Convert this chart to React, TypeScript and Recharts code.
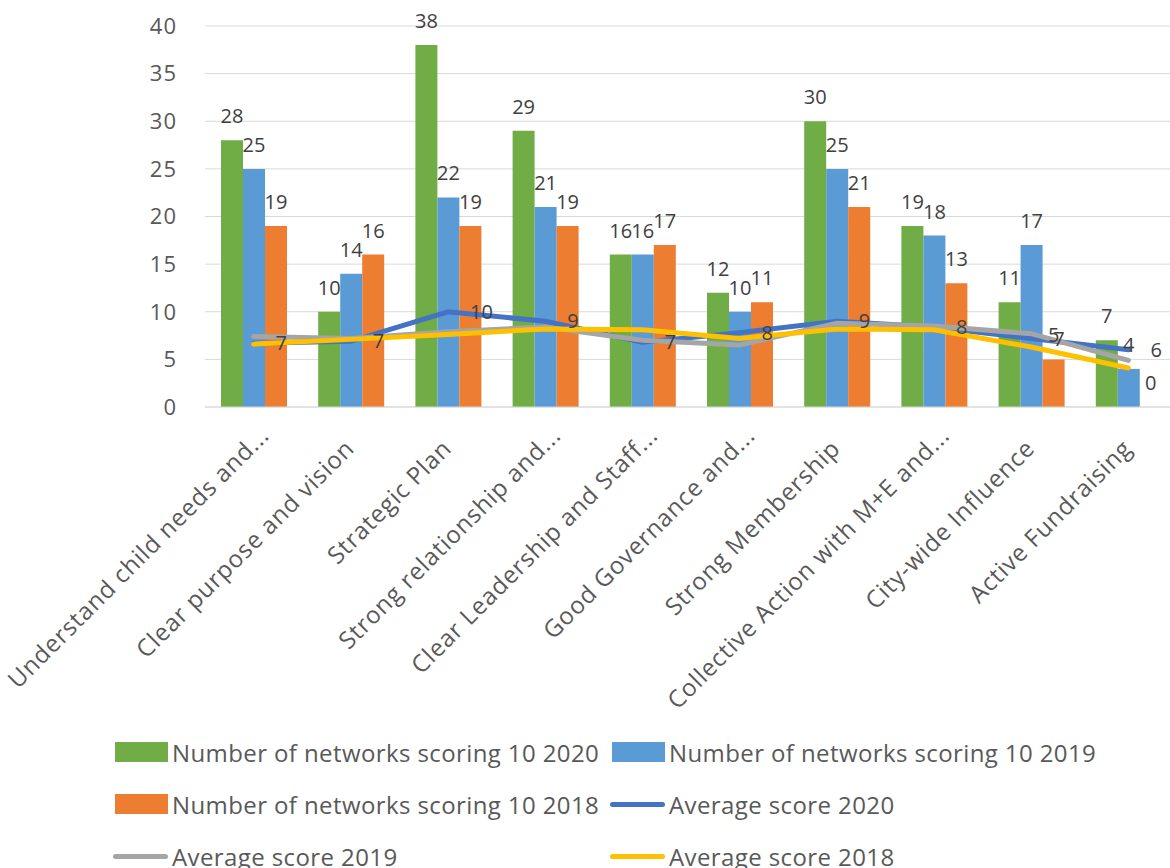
import {
  ComposedChart,
  Bar,
  Line,
  XAxis,
  YAxis,
  CartesianGrid,
  Legend,
  LabelList,
} from 'recharts'

const categories = [
  'Understand child needs and...',
  'Clear purpose and vision',
  'Strategic Plan',
  'Strong relationship and...',
  'Clear Leadership and Staff...',
  'Good Governance and...',
  'Strong Membership',
  'Collective Action with M+E and...',
  'City-wide Influence',
  'Active Fundraising',
]

const networks2020 = [28, 10, 38, 29, 16, 12, 30, 19, 11, 7]
const networks2019 = [25, 14, 22, 21, 16, 10, 25, 18, 17, 4]
const networks2018 = [19, 16, 19, 19, 17, 11, 21, 13, 5, 0]

const average2020 = [6.7, 6.9, 10.0, 9.0, 6.8, 7.8, 9.0, 8.4, 7.2, 6.0]
const average2019 = [7.4, 7.2, 7.9, 8.4, 7.0, 6.5, 8.8, 8.5, 7.7, 4.9]
const average2018 = [6.6, 7.1, 7.6, 8.2, 8.1, 7.2, 8.2, 8.1, 6.3, 4.1]

const yTicks = [0, 5, 10, 15, 20, 25, 30, 35, 40]

const data = categories.map((name, i) => ({
  name,
  n2020: networks2020[i],
  n2019: networks2019[i],
  n2018: networks2018[i],
  a2020: average2020[i],
  a2019: average2019[i],
  a2018: average2018[i],
}))

const FONT = "'Open Sans', sans-serif"
const AXIS_TEXT = '#595959'
const LABEL_TEXT = '#404040'

const legendItems = [
  { label: 'Number of networks scoring 10 2020', color: '#70AD47', kind: 'bar' },
  { label: 'Number of networks scoring 10 2019', color: '#5B9BD5', kind: 'bar' },
  { label: 'Number of networks scoring 10 2018', color: '#ED7D31', kind: 'bar' },
  { label: 'Average score 2020', color: '#4472C4', kind: 'line' },
  { label: 'Average score 2019', color: '#A5A5A5', kind: 'line' },
  { label: 'Average score 2018', color: '#FFC000', kind: 'line' },
]

// zero bars still need a rect so their "0" label is placed
const keepZeroBar = (value: any) => (Number(value) === 0 ? 0.01 : 0)

function CategoryTick(props: any) {
  const { x, y, payload } = props
  const text: string = payload.value
  // truncated labels sit a little further along the slant
  const cut = text.endsWith('...')
  const dx = cut ? 17 : 5
  const dy = cut ? 30 : 43
  return (
    <g transform={`translate(${x + dx},${y + dy})`}>
      <text
        textAnchor="end"
        transform="rotate(-45)"
        fill={AXIS_TEXT}
        fontSize={24}
        letterSpacing={0.8}
        fontFamily={FONT}
      >
        {text}
      </text>
    </g>
  )
}

function BarValue(props: any) {
  const { x, y, width, value } = props
  return (
    <text
      x={Number(x) + Number(width) / 2}
      y={Number(y) - 17}
      textAnchor="middle"
      fill={LABEL_TEXT}
      fontSize={20}
      fontFamily={FONT}
    >
      {value}
    </text>
  )
}

function LegendBlock() {
  return (
    <div
      style={{
        display: 'grid',
        gridTemplateColumns: '497px 500px',
        rowGap: 22,
        paddingLeft: 113,
        paddingTop: 7,
        height: 138,
        boxSizing: 'border-box',
        fontFamily: FONT,
        fontSize: 24,
        letterSpacing: 0.4,
        color: AXIS_TEXT,
      }}
    >
      {legendItems.map((item) => (
        <div
          key={item.label}
          style={{ display: 'flex', alignItems: 'center', height: 30, whiteSpace: 'nowrap' }}
        >
          {item.kind === 'bar' ? (
            <span style={{ width: 53, height: 20, marginLeft: 2, background: item.color }} />
          ) : (
            <span style={{ width: 55, height: 5, borderRadius: 3, background: item.color }} />
          )}
          <span style={{ marginLeft: 4 }}>{item.label}</span>
        </div>
      ))}
    </div>
  )
}

export default function App() {
  return (
    <div
      style={{
        position: 'fixed',
        left: 0,
        top: 0,
        width: 1170,
        height: 868,
        overflow: 'hidden',
        background: '#fff',
      }}
    >
      <ComposedChart
        width={1190}
        height={868}
        data={data}
        margin={{ top: 26, right: 13, left: 0, bottom: 0 }}
        barCategoryGap={16}
        barGap={0}
      >
        <CartesianGrid vertical={false} stroke="#d9d9d9" />
        <XAxis
          dataKey="name"
          interval={0}
          height={323}
          tickLine={false}
          tickSize={0}
          tickMargin={0}
          axisLine={{ stroke: '#d9d9d9' }}
          tick={CategoryTick}
        />
        <YAxis
          domain={[0, 40]}
          ticks={yTicks}
          width={205}
          axisLine={false}
          tickLine={false}
          tickSize={0}
          tickMargin={28}
          tick={{ fill: AXIS_TEXT, fontSize: 22, fontFamily: FONT, letterSpacing: 1 }}
        />
        <Legend
          verticalAlign="bottom"
          align="left"
          content={() => <LegendBlock />}
        />
        <Bar dataKey="n2020" fill="#70AD47" minPointSize={keepZeroBar} isAnimationActive={false}>
          <LabelList dataKey="n2020" content={BarValue} />
        </Bar>
        <Bar dataKey="n2019" fill="#5B9BD5" minPointSize={keepZeroBar} isAnimationActive={false}>
          <LabelList dataKey="n2019" content={BarValue} />
        </Bar>
        <Bar dataKey="n2018" fill="#ED7D31" minPointSize={keepZeroBar} isAnimationActive={false}>
          <LabelList dataKey="n2018" content={BarValue} />
        </Bar>
        <Line
          type="linear"
          dataKey="a2020"
          stroke="#4472C4"
          strokeWidth={5}
          strokeLinecap="round"
          dot={false}
          activeDot={false}
          isAnimationActive={false}
        >
          <LabelList
            dataKey="a2020"
            position="right"
            offset={22}
            fill={LABEL_TEXT}
            fontSize={20}
            fontFamily={FONT}
            formatter={(v: any) => Math.round(Number(v))}
          />
        </Line>
        <Line
          type="linear"
          dataKey="a2019"
          stroke="#A5A5A5"
          strokeWidth={5}
          strokeLinecap="round"
          dot={false}
          activeDot={false}
          isAnimationActive={false}
        />
        <Line
          type="linear"
          dataKey="a2018"
          stroke="#FFC000"
          strokeWidth={5}
          strokeLinecap="round"
          dot={false}
          activeDot={false}
          isAnimationActive={false}
        />
      </ComposedChart>
    </div>
  )
}
